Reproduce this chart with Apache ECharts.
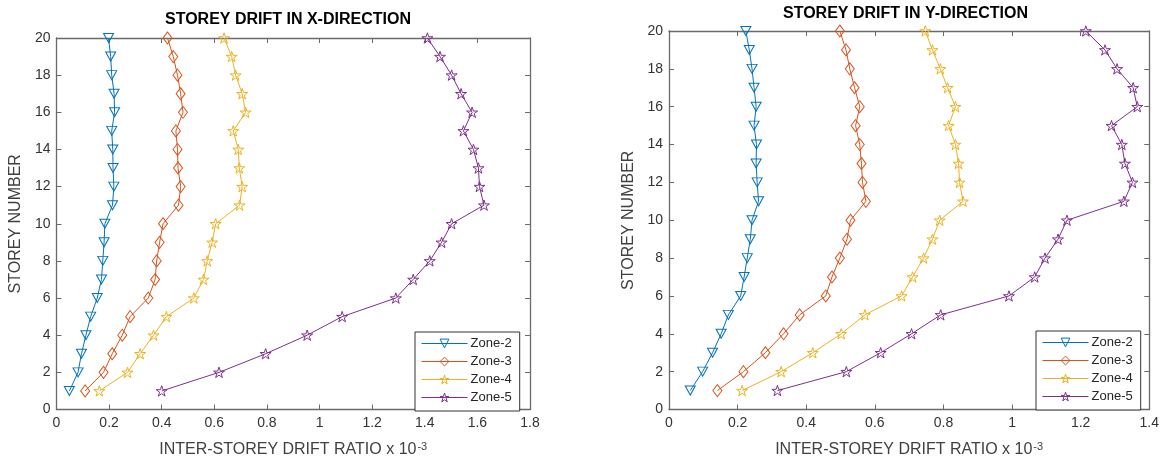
<!DOCTYPE html>
<html>
<head>
<meta charset="utf-8">
<title>Storey drift</title>
<script src="https://cdn.jsdelivr.net/npm/echarts@6/dist/echarts.min.js"></script>
<style>
  html, body { margin: 0; padding: 0; background: #fff; }
  #wrap { position: relative; width: 1162px; height: 463px; }
  #boxX { position: absolute; left: 0; top: 0; width: 581px; height: 463px; }
  #boxY { position: absolute; left: 581px; top: 0; width: 581px; height: 463px; }
</style>
</head>
<body>
<div id="wrap">
  <div id="boxX"></div>
  <div id="boxY"></div>
</div>
<script>
// storey 1..20
var storeys = [1,2,3,4,5,6,7,8,9,10,11,12,13,14,15,16,17,18,19,20];
var zoneNames = ['Zone-2', 'Zone-3', 'Zone-4', 'Zone-5'];

// X direction (drift ratio x 10^-3)
var xZone2 = [0.049,0.082,0.095,0.112,0.130,0.155,0.171,0.176,0.181,0.184,0.213,0.218,0.215,0.214,0.210,0.221,0.219,0.210,0.206,0.198];
var xZone3 = [0.109,0.179,0.212,0.250,0.280,0.349,0.375,0.381,0.392,0.405,0.464,0.472,0.462,0.460,0.454,0.481,0.472,0.460,0.444,0.422];
var xZone4 = [0.163,0.270,0.318,0.369,0.418,0.522,0.559,0.573,0.592,0.605,0.696,0.706,0.695,0.691,0.672,0.719,0.706,0.681,0.666,0.637];
var xZone5 = [0.400,0.618,0.795,0.953,1.086,1.290,1.356,1.419,1.464,1.502,1.625,1.608,1.604,1.585,1.547,1.580,1.538,1.502,1.458,1.410];

// Y direction
var yZone2 = [0.062,0.098,0.127,0.152,0.173,0.209,0.219,0.228,0.237,0.242,0.261,0.257,0.254,0.255,0.248,0.254,0.248,0.242,0.234,0.224];
var yZone3 = [0.141,0.217,0.281,0.334,0.381,0.457,0.475,0.498,0.519,0.529,0.574,0.564,0.561,0.556,0.544,0.556,0.541,0.527,0.516,0.498];
var yZone4 = [0.213,0.327,0.419,0.502,0.571,0.678,0.710,0.742,0.768,0.789,0.857,0.847,0.844,0.835,0.815,0.835,0.812,0.791,0.768,0.747];
var yZone5 = [0.316,0.517,0.617,0.707,0.792,0.991,1.066,1.096,1.134,1.160,1.326,1.351,1.329,1.320,1.290,1.365,1.353,1.306,1.271,1.215];

var colors = ['#0072BD', '#D95319', '#EDB120', '#7E2F8E'];
var star = 'path://M50,0 L61.23,34.55 L97.55,34.55 L68.16,55.9 L79.39,90.45 L50,69.1 L20.61,90.45 L31.84,55.9 L2.45,34.55 L38.77,34.55 Z';
var symbols = [
    {symbol: 'triangle', size: [10, 9], rotate: 180},
    {symbol: 'diamond', size: [9, 12], rotate: 0},
    {symbol: star, size: 11, rotate: 0},
    {symbol: star, size: 11, rotate: 0}
];

var font = '"Liberation Sans", Arial, sans-serif';

function makeSeries(list) {
    return list.map(function (vals, i) {
        return {
            name: zoneNames[i],
            type: 'line',
            xAxisIndex: 0,
            yAxisIndex: 0,
            clip: false,
            data: vals.map(function (v, k) { return [v, storeys[k]]; }),
            symbol: symbols[i].symbol,
            symbolSize: symbols[i].size,
            symbolRotate: symbols[i].rotate,
            symbolKeepAspect: true,
            itemStyle: {color: 'rgba(255,255,255,0)', borderColor: colors[i], borderWidth: 1},
            lineStyle: {color: colors[i], width: 1},
            z: 3
        };
    });
}

function boxAxes(xmax) {
    var lineCol = '#6a6a6a';
    var xa = {
        type: 'value', min: 0, max: xmax, interval: 0.2,
        axisLine: {show: true, onZero: false, lineStyle: {color: lineCol, width: 1.3}},
        axisTick: {show: true, inside: true, length: 5, lineStyle: {color: lineCol}},
        splitLine: {show: false}
    };
    var ya = {
        type: 'value', min: 0, max: 20, interval: 2,
        axisLine: {show: true, onZero: false, lineStyle: {color: lineCol, width: 1.3}},
        axisTick: {show: true, inside: true, length: 5, lineStyle: {color: lineCol}},
        splitLine: {show: false}
    };
    var xAxis = [
        Object.assign({}, xa, {
            position: 'bottom',
            name: 'INTER-STOREY DRIFT RATIO x 10{sup|-3}',
            nameLocation: 'middle',
            nameGap: 32,
            nameTextStyle: {
                color: '#404040', fontSize: 16, fontFamily: font,
                rich: {sup: {fontSize: 11, color: '#404040', fontFamily: font, verticalAlign: 'top', padding: [0, 0, 6, 1]}}
            },
            axisLabel: {color: '#333', fontSize: 14, fontFamily: font, margin: 7}
        }),
        Object.assign({}, xa, {position: 'top', axisLabel: {show: false}})
    ];
    var yAxis = [
        Object.assign({}, ya, {
            position: 'left',
            name: 'STOREY NUMBER',
            nameLocation: 'middle',
            nameGap: 24,
            nameTextStyle: {color: '#404040', fontSize: 16, fontFamily: font},
            axisLabel: {color: '#333', fontSize: 14, fontFamily: font, margin: 6}
        }),
        Object.assign({}, ya, {position: 'right', axisLabel: {show: false}})
    ];
    return {xAxis: xAxis, yAxis: yAxis};
}

function makeLegend(left, top) {
    return {
        data: zoneNames,
        orient: 'vertical',
        left: left, top: top,
        itemWidth: 46, itemHeight: 11, itemGap: 5,
        padding: [5, 8, 7, 6],
        borderColor: '#333', borderWidth: 1,
        backgroundColor: '#fff',
        lineStyle: {width: 1},
        itemStyle: {borderWidth: 1},
        textStyle: {fontSize: 13, lineHeight: 11, color: '#262626', fontFamily: font, padding: [0, 0, 0, -2]}
    };
}

// X-direction chart
var dom = document.getElementById('boxX');
var myChart = echarts.init(dom);
var axesX = boxAxes(1.8);
var option = {
    animation: false,
    title: {
        text: 'STOREY DRIFT IN X-DIRECTION',
        left: 165, top: 12, padding: 0,
        textStyle: {fontSize: 16, fontWeight: 'bold', color: '#000', fontFamily: font}
    },
    grid: {left: 52, top: 38, right: 51, bottom: 50},
    legend: makeLegend(415, 332),
    xAxis: axesX.xAxis,
    yAxis: axesX.yAxis,
    series: makeSeries([xZone2, xZone3, xZone4, xZone5])
};
myChart.setOption(option);

// Y-direction chart
var dom = document.getElementById('boxY');
var myChart = echarts.init(dom);
var axesY = boxAxes(1.4);
option = {
    animation: false,
    title: {
        text: 'STOREY DRIFT IN Y-DIRECTION',
        left: 202, top: 6, padding: 0,
        textStyle: {fontSize: 16, fontWeight: 'bold', color: '#000', fontFamily: font}
    },
    grid: {left: 88, top: 31, right: 12, bottom: 51},
    legend: makeLegend(455, 331),
    xAxis: axesY.xAxis,
    yAxis: axesY.yAxis,
    series: makeSeries([yZone2, yZone3, yZone4, yZone5])
};
myChart.setOption(option);
</script>
</body>
</html>
